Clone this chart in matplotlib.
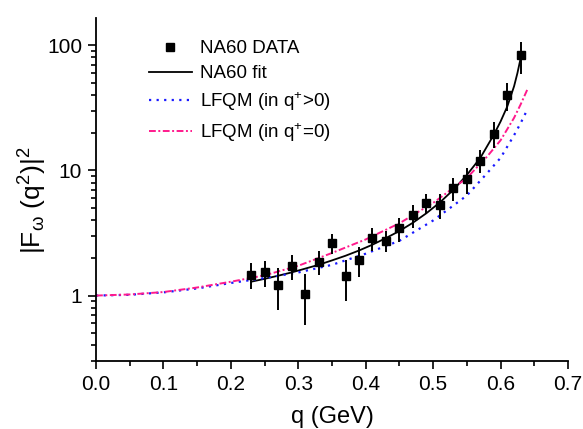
import numpy as np
import matplotlib
matplotlib.use("Agg")
import matplotlib.pyplot as plt
from matplotlib.lines import Line2D
from matplotlib.ticker import FixedLocator, NullFormatter, MultipleLocator

plt.rcParams["font.family"] = ["Liberation Sans", "DejaVu Sans"]
plt.rcParams["mathtext.default"] = "regular"

# ---------------------------
# DATA
# ---------------------------
q_data = [0.23, 0.25, 0.27, 0.29, 0.31, 0.33, 0.35, 0.37, 0.39, 0.41, 0.43,
          0.45, 0.47, 0.49, 0.51, 0.53, 0.55, 0.57, 0.59, 0.61, 0.63]
f_data = [1.47, 1.53, 1.21, 1.71, 1.03, 1.85, 2.62, 1.42, 1.92, 2.87, 2.75,
          3.44, 4.37, 5.45, 5.32, 7.18, 8.52, 11.95, 19.7, 40.0, 83.0]
f_err = [0.35, 0.36, 0.44, 0.38, 0.45, 0.40, 0.48, 0.52, 0.52, 0.60, 0.54,
         0.74, 0.88, 0.97, 1.2, 1.5, 2.0, 2.5, 4.5, 10.0, 24.0]

q_fit = [0.23, 0.25, 0.27, 0.29, 0.31, 0.33, 0.35, 0.37, 0.39, 0.41, 0.43,
         0.45, 0.47, 0.49, 0.51, 0.53, 0.55, 0.57, 0.59, 0.60, 0.61, 0.62,
         0.625, 0.63]
f_fit = [1.29, 1.36, 1.44, 1.53, 1.64, 1.76, 1.91, 2.08, 2.29, 2.55, 2.88,
         3.28, 3.82, 4.55, 5.55, 7.0, 9.2, 12.6, 19.3, 24.6, 32.5, 47.0,
         60.0, 80.0]

q_lfqm = [0.0, 0.05, 0.10, 0.15, 0.20, 0.25, 0.30, 0.35, 0.40, 0.45, 0.50,
          0.55, 0.58, 0.60, 0.62, 0.63, 0.64]
f_plus_gt0 = [1.0, 1.014, 1.06, 1.14, 1.26, 1.38, 1.53, 1.76, 2.16, 2.74,
              3.98, 6.3, 9.5, 12.6, 19.1, 24.0, 30.9]
f_plus_eq0 = [1.0, 1.02, 1.067, 1.16, 1.29, 1.45, 1.73, 2.19, 2.81, 3.78,
              5.5, 8.7, 12.9, 17.4, 26.3, 33.9, 44.7]

# ---------------------------
# PLOT
# ---------------------------
fig = plt.figure(figsize=(5.83, 4.29), dpi=100)
ax = fig.add_axes([0.1647, 0.1585, 0.8096, 0.7995])

ax.errorbar(q_data, f_data, yerr=f_err, fmt="s", color="black", ms=6,
            elinewidth=1.4, capsize=0, zorder=5)
l_fit, = ax.plot(q_fit, f_fit, color="black", lw=1.3)
l_gt0, = ax.plot(q_lfqm, f_plus_gt0, color="#1a1aff", lw=1.6,
                 linestyle=(0, (1, 2.4)))
l_eq0, = ax.plot(q_lfqm, f_plus_eq0, color="#ff1a8c", lw=1.4,
                 linestyle=(0, (3.5, 1.3, 1, 1.3)))

ax.set_yscale("log")
ax.set_xlim(0.0, 0.7)
ax.set_ylim(0.3, 165)

ax.xaxis.set_major_locator(MultipleLocator(0.1))
ax.xaxis.set_minor_locator(MultipleLocator(0.05))
ax.set_xticklabels([f"{v:.1f}" for v in ax.get_xticks()])

ax.yaxis.set_major_locator(FixedLocator([1, 10, 100]))
ax.set_yticklabels(["1", "10", "100"])
minors = [m * 10.0 ** e for e in (-1, 0, 1) for m in range(2, 10)]
ax.yaxis.set_minor_locator(FixedLocator([v for v in minors if v >= 0.3]))
ax.yaxis.set_minor_formatter(NullFormatter())

for s in ("top", "right"):
    ax.spines[s].set_visible(False)
for s in ("left", "bottom"):
    ax.spines[s].set_linewidth(1.3)

ax.tick_params(which="major", direction="out", length=6, width=1.2,
               labelsize=15, pad=4)
ax.tick_params(which="minor", direction="out", length=3.5, width=1.2)

ax.set_xlabel("q (GeV)", fontsize=17, labelpad=9)
ax.set_ylabel("|F$_{\\omega}$ (q$^{2}$)|$^{2}$", fontsize=19)
ax.yaxis.set_label_coords(-0.10, 0.47)

data_handle = Line2D([], [], marker="s", ls="none", color="black", ms=6)
ax.legend([data_handle, l_fit, l_gt0, l_eq0],
          ["NA60 DATA", "NA60 fit", "LFQM (in q$^{+}$>0)", "LFQM (in q$^{+}$=0)"],
          loc="upper left", bbox_to_anchor=(0.112, 0.935), frameon=False,
          fontsize=13.5, handlelength=2.3, handletextpad=0.4,
          labelspacing=0.42, borderaxespad=0, borderpad=0)

fig.savefig("out.png", dpi=100)
